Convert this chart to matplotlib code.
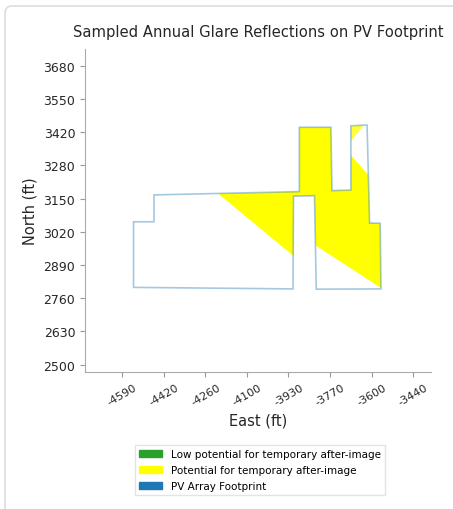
import matplotlib
matplotlib.use("Agg")
import matplotlib.pyplot as plt
from matplotlib.patches import Polygon, Patch, FancyBboxPatch
import numpy as np

# PV footprint outline (East, North in ft)
footprint_east = [-4546, -4546, -4465, -4465, -3890, -3890, -3765, -3761, -3686,
                  -3686, -3622, -3612, -3570, -3567, -3823, -3830, -3913, -3915]
footprint_north = [2805, 3064, 3064, 3170, 3183, 3437, 3437, 3187, 3189,
                   3443, 3446, 3059, 3058, 2799, 2798, 3167, 3165, 2799]

# glare areas (potential for temporary after-image)
glare_a_east = [-4211, -3890, -3890, -3913, -3913]
glare_a_north = [3175, 3183, 3165, 3165, 2929]
glare_b_east = [-3890, -3765, -3761, -3686, -3686, -3617, -3612, -3570, -3567,
                -3825, -3830, -3890]
glare_b_north = [3437, 3437, 3187, 3189, 3327, 3249, 3059, 3058, 2803,
                 2970, 3167, 3166]
glare_c_east = [-3686, -3637, -3686]
glare_c_north = [3441, 3444, 3383]

x_ticks = np.linspace(-4590, -3440, 8)
x_labels = ['-4590', '-4420', '-4260', '-4100', '-3930', '-3770', '-3600', '-3440']
y_ticks = np.linspace(2500, 3680, 10)
y_labels = ['2500', '2630', '2760', '2890', '3020', '3150', '3280', '3420', '3550', '3680']

fig = plt.figure(figsize=(4.53, 5.10), dpi=100)

# card border
fig.patches.append(FancyBboxPatch((5/453, -0.2), 1.5, 1 - 7/510 + 0.2,
                                  boxstyle="round,pad=0,rounding_size=0.015",
                                  transform=fig.transFigure, fill=False,
                                  edgecolor='#dddddd', linewidth=1.2))

ax = fig.add_axes([85/453, 1 - 373/510, 346/453, 323/510])

for ex, no in [(glare_a_east, glare_a_north), (glare_b_east, glare_b_north)]:
    ax.add_patch(Polygon(np.column_stack([ex, no]), closed=True,
                         facecolor='#ffff00', edgecolor='none'))
ax.add_patch(Polygon(np.column_stack([glare_c_east, glare_c_north]), closed=True,
                     facecolor='#ffff00', edgecolor='none', alpha=0.8))

ax.add_patch(Polygon(np.column_stack([footprint_east, footprint_north]), closed=True,
                     facecolor='none', edgecolor='#1f77b4', alpha=0.4, linewidth=1.2))

ax.set_xlim(-4738, -3369)
ax.set_ylim(2471, 3746)

ax.set_xticks(x_ticks)
ax.set_xticklabels(x_labels, rotation=30, fontsize=8)
ax.set_yticks(y_ticks)
ax.set_yticklabels(y_labels, fontsize=9)
ax.tick_params(colors='#999999', labelcolor='#262626', length=3.5)

for s in ['top', 'right']:
    ax.spines[s].set_visible(False)
for s in ['left', 'bottom']:
    ax.spines[s].set_color('#aaaaaa')

ax.set_xlabel('East (ft)', fontsize=10.5, color='#262626', labelpad=4)
ax.set_ylabel('North (ft)', fontsize=10.5, color='#262626')
ax.set_title('Sampled Annual Glare Reflections on PV Footprint', fontsize=10.6,
             color='#262626', pad=9)

handles = [Patch(color='#2ca02c', label='Low potential for temporary after-image'),
           Patch(color='#ffff00', label='Potential for temporary after-image'),
           Patch(color='#1f77b4', label='PV Array Footprint')]
fig.legend(handles=handles, loc='upper center', bbox_to_anchor=(260/453, 1 - 441/510),
           fontsize=7.5, frameon=True, edgecolor='#dddddd', fancybox=False,
           handlelength=2.2, labelspacing=0.55)

fig.savefig('out.png', dpi=100)
